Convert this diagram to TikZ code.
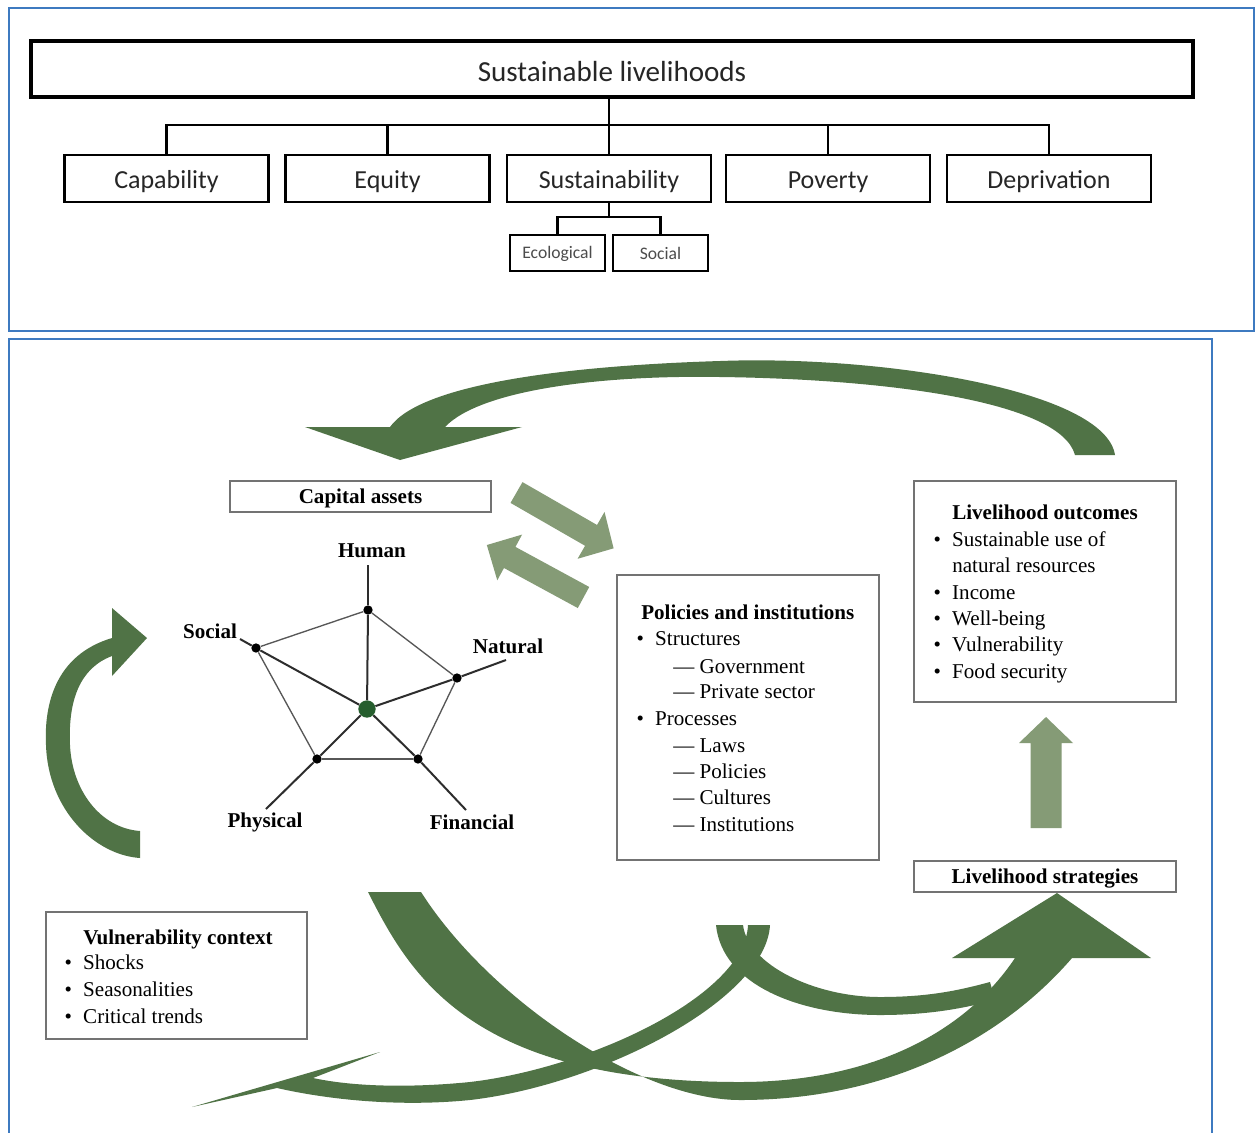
\documentclass[tikz,border=0pt]{standalone}
\usepackage{fontspec}
\setmainfont{Liberation Serif}
\newfontfamily\calib{Carlito}
\usetikzlibrary{calc}
\definecolor{dgreen}{RGB}{80,115,70}
\definecolor{lgreen}{RGB}{133,155,118}
\definecolor{cgreen}{RGB}{38,94,46}
\definecolor{frameblue}{RGB}{62,122,192}
\definecolor{boxgray}{RGB}{115,115,115}
\definecolor{linegray}{RGB}{45,45,45}
\newcommand{\blockarrow}[6]{\fill[lgreen,shift={#1},rotate=#2] (0,-#3) -- (#4,-#3) -- (#4,-#5) -- (#6,0) -- (#4,#5) -- (#4,#3) -- (0,#3) -- cycle;}
\newcommand{\bul}{\makebox[14pt][l]{•}}
\newcommand{\dn}[2]{\raisebox{-#1}[\height][\depth]{#2}}
\begin{document}
\begin{tikzpicture}[x=0.75pt,y=-0.75pt,
  font=\rmfamily\fontsize{15.8}{19}\selectfont,
  panel/.style={draw=frameblue, line width=1.5pt},
  bigbox/.style={draw=black, line width=2.4pt, inner sep=0pt, minimum width=871.5pt, minimum height=42pt, font=\calib\fontsize{21.8}{24}\selectfont, text=black!85},
  topbox/.style={draw=black, line width=2pt, inner sep=0pt, minimum width=153pt, minimum height=35.25pt, font=\calib\fontsize{19.5}{22}\selectfont, text=black!85},
  subbox/.style={draw=black, line width=1.8pt, inner sep=0pt, minimum width=71.25pt, minimum height=27pt, font=\calib\fontsize{13.2}{15}\selectfont, text=black!70},
  tree/.style={line width=2pt, draw=black},
  bbox/.style={draw=boxgray, line width=1.3pt, inner sep=0pt},
  txt/.style={anchor=base west, inner sep=0pt},
  ttl/.style={txt, font=\rmfamily\bfseries\fontsize{15.8}{19}\selectfont},
  lab/.style={inner sep=0pt, font=\rmfamily\bfseries\fontsize{15.8}{19}\selectfont},
  vdot/.style={circle, fill=black, inner sep=0pt, minimum size=7pt},
  cdot/.style={circle, fill=cgreen, inner sep=0pt, minimum size=13pt},
  spoke/.style={draw=linegray, line width=1.5pt},
  pentedge/.style={draw=linegray!80, line width=1pt}
]
\useasboundingbox (0,0) rectangle (1255,1132);
\fill[white] (0,0) rectangle (1255,1132);

% ---------------- top panel ----------------
\draw[panel] (8.5,8) rectangle (1254,331);
\node[bigbox] (sl) at (612,69) {\dn{2.2pt}{Sustainable livelihoods}};
\node[topbox] (cap) at (166.5,178.5) {\dn{2.5pt}{Capability}};
\node[topbox] (eq)  at (387.5,178.5) {\dn{2.5pt}{Equity}};
\node[topbox] (sus) at (609,178.5) {\dn{2.5pt}{Sustainability}};
\node[topbox] (pov) at (828,178.5) {\dn{2.5pt}{Poverty}};
\node[topbox] (dep) at (1049,178.5) {\dn{2.5pt}{Deprivation}};
\node[subbox] (eco) at (557.5,253) {\dn{0.8pt}{Ecological}};
\node[subbox] (soc) at (660.5,253) {Social};
\coordinate (j) at (609,125);
\draw[tree] (sl.south -| j) -- (j);
\foreach \n in {cap,eq,sus,pov,dep} \draw[tree] (j) -| (\n.north);
\coordinate (k) at (609,217);
\draw[tree] (sus.south) -- (k);
\draw[tree] (k) -| (eco.north);
\draw[tree] (k) -| (soc.north);

% ---------------- bottom panel ----------------
\draw[panel] (9,339) rectangle (1212,1145);

% big dark green arrows
\fill[dgreen] (1115,455) .. controls (1105,390) and (880,355) .. (720,361) .. controls (560,366) and (420,385) .. (390,427) -- (305,427) -- (400,460) -- (522,427) -- (445,427) .. controls (480,390) and (600,375) .. (720,377) .. controls (880,379) and (1060,400) .. (1075,455) -- cycle;
\fill[dgreen] (140,858) .. controls (95,855) and (48,810) .. (46,745) .. controls (44,705) and (55,655) .. (112,638) -- (112,608) -- (147,638) -- (112,676) -- (112,656) .. controls (80,668) and (68,700) .. (70,745) .. controls (72,790) and (100,828) .. (140,831) -- cycle;
% arrow A (to livelihood strategies)
\fill[dgreen] (368,892) -- (421,892) .. controls (490,1000) and (640,1100) .. (740,1100) .. controls (900,1100) and (1010,1030) .. (1072,958) -- (1151,958) -- (1057,893) -- (952,958) -- (1015,958) .. controls (960,1040) and (860,1082) .. (740,1082) .. controls (470,1082) and (410,975) .. (368,892) -- cycle;
% arrow C (merging into A)
\fill[dgreen] (716,925) .. controls (722,985) and (800,1015) .. (880,1015) .. controls (930,1015) and (965,1008) .. (995,1000) -- (990,982) .. controls (960,990) and (930,997) .. (880,997) .. controls (815,997) and (748,965) .. (743,925) -- cycle;
% arrow B (to bottom left)
\fill[dgreen] (770,925) .. controls (766,1000) and (600,1085) .. (470,1100) .. controls (400,1107) and (330,1100) .. (277,1088) -- (192,1107) -- (380,1052) -- (313,1078) .. controls (360,1088) and (420,1087) .. (470,1082) .. controls (590,1068) and (745,995) .. (748,925) -- cycle;

% light green block arrows
\blockarrow{(516.5,492.5)}{-29.9}{12}{86}{27}{112}
\blockarrow{(583.5,597.5)}{-208.5}{12}{84}{26}{110}
\blockarrow{(1046,828)}{90}{15.5}{85}{27}{111}

% boxes
\node[bbox, minimum width=195.75pt, minimum height=23.25pt, font=\rmfamily\bfseries\fontsize{15.8}{19}\selectfont] (ca) at (360.5,496.5) {\dn{1.5pt}{Capital assets}};
\node[bbox, minimum width=196.5pt, minimum height=23.25pt, font=\rmfamily\bfseries\fontsize{15.8}{19}\selectfont] (ls) at (1045,876.5) {\dn{1.5pt}{Livelihood strategies}};
\node[bbox, minimum width=196.5pt, minimum height=165.75pt] (lo) at (1045,591.5) {};
\node[bbox, minimum width=196.5pt, minimum height=213.75pt] (pi) at (748,717.5) {};
\node[bbox, minimum width=195.75pt, minimum height=95.25pt] (vc) at (176.5,975.5) {};

% livelihood outcomes text
\node[ttl] (lo0) at (952,519) {Livelihood outcomes};
\node[txt] (lo1) at (933.3,546) {\bul Sustainable use of};
\node[txt] (lo2) at (952,572) {natural resources};
\node[txt] (lo3) at (933.3,599) {\bul Income};
\node[txt] (lo4) at (933.3,625) {\bul Well-being};
\node[txt] (lo5) at (933.3,651) {\bul Vulnerability};
\node[txt] (lo6) at (933.3,678) {\bul Food security};

% policies text
\node[ttl] (pi0) at (641,619) {Policies and institutions};
\node[txt] (pi1) at (636.3,645) {\bul Structures};
\node[txt] (pi2) at (673,673) {— Government};
\node[txt] (pi3) at (673,698) {— Private sector};
\node[txt] (pi4) at (636.3,725) {\bul Processes};
\node[txt] (pi5) at (673,752) {— Laws};
\node[txt] (pi6) at (673,778) {— Policies};
\node[txt] (pi7) at (673,804) {— Cultures};
\node[txt] (pi8) at (673,831) {— Institutions};

% vulnerability text
\node[ttl] (vc0) at (83,944) {Vulnerability context};
\node[txt] (vc1) at (64.3,969) {\bul Shocks};
\node[txt] (vc2) at (64.3,996) {\bul Seasonalities};
\node[txt] (vc3) at (64.3,1023) {\bul Critical trends};

% pentagon
\node[cdot] (pc) at (367,709) {};
\node[vdot] (ph) at (368,610) {};
\node[vdot] (ps) at (256,648) {};
\node[vdot] (pn) at (457,678) {};
\node[vdot] (pf) at (418,759) {};
\node[vdot] (pp) at (317,759) {};
\coordinate (eh) at (368,565);
\coordinate (es) at (240,639);
\coordinate (en) at (506,660);
\coordinate (ef) at (466,810);
\coordinate (ep) at (266,809);
\foreach \a/\b in {ph/ps,ph/pn,pn/pf,pf/pp,pp/ps} \draw[pentedge] (\a) -- (\b);
\foreach \v/\e in {ph/eh,ps/es,pn/en,pf/ef,pp/ep} {\draw[spoke] (pc) -- (\v); \draw[spoke] (\v) -- (\e);}
\node[lab] (lh) at (372,551) {Human};
\node[lab] (lsoc) at (210,631) {Social};
\node[lab] (ln) at (508,646) {Natural};
\node[lab] (lp) at (265,822) {Physical};
\node[lab] (lf) at (472,822) {Financial};
\end{tikzpicture}
\end{document}
